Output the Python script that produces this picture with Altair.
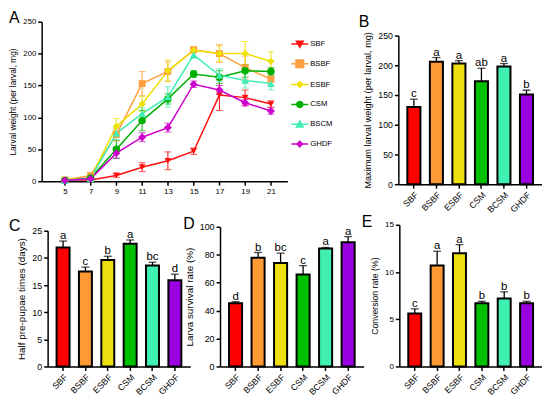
import altair as alt
import pandas as pd

FONT = "Liberation Sans"

# ---------------- Panel A data ----------------
series = ["SBF", "BSBF", "ESBF", "CSM", "BSCM", "GHDF"]
days = [5, 7, 9, 11, 13, 15, 17, 19, 21]

w_sbf = [2, 2, 9, 22, 32, 47, 135, 131, 121]
e_sbf = [1, 1, 3, 7, 14, 5, 24, 12, 5]
w_bsbf = [2, 9, 73, 153, 172, 206, 200, 178, 160]
e_bsbf = [1, 2, 10, 19, 15, 4, 14, 18, 10]
w_esbf = [2, 5, 86, 121, 173, 205, 200, 200, 188]
e_esbf = [1, 2, 12, 12, 17, 4, 12, 19, 15]
w_csm = [1, 5, 50, 95, 129, 168, 163, 173, 172]
e_csm = [1, 2, 14, 16, 8, 5, 10, 10, 6]
w_bscm = [1, 4, 75, 106, 132, 198, 166, 158, 153]
e_bscm = [1, 2, 10, 9, 16, 5, 10, 12, 10]
w_ghdf = [1, 4, 44, 69, 84, 152, 143, 123, 110]
e_ghdf = [1, 1, 8, 7, 7, 5, 7, 5, 5]

line_colors = ["#FF1010", "#FFA040", "#EEE000", "#00B000", "#40EDB5", "#CC00CC"]
marker_shapes = ["triangle-down", "square", "diamond", "circle", "triangle-up", "diamond"]
marker_sizes = [45, 64, 30, 49, 45, 30]
legend_paths = [
    "M-1,0L1,0M-0.4,-0.32L0.4,-0.32L0,0.38Z",
    "M-1,0L1,0M-0.45,-0.45L0.45,-0.45L0.45,0.45L-0.45,0.45Z",
    "M-1,0L1,0M0,-0.33L0.33,0L0,0.33L-0.33,0Z",
    "M-1,0L1,0M0.36,0L0.312,0.18L0.18,0.312L0,0.36L-0.18,0.312L-0.312,0.18L-0.36,0"
    "L-0.312,-0.18L-0.18,-0.312L0,-0.36L0.18,-0.312L0.312,-0.18Z",
    "M-1,0L1,0M-0.4,0.32L0.4,0.32L0,-0.38Z",
    "M-1,0L1,0M0,-0.33L0.33,0L0,0.33L-0.33,0Z",
]

# ---------------- Bar panels data ----------------
groups = ["SBF", "BSBF", "ESBF", "CSM", "BCSM", "GHDF"]
max_w = [130, 206, 203, 173, 198, 151]
max_err = [13, 7, 5, 22, 5, 7]
max_let = ["c", "a", "a", "ab", "a", "b"]

half_t = [21.9, 17.5, 19.6, 22.6, 18.6, 15.9]
half_err = [1.2, 0.8, 0.7, 0.7, 0.6, 1.1]
half_let = ["a", "c", "b", "a", "bc", "d"]

surv = [45.2, 77.9, 74.1, 65.9, 84.5, 88.9]
surv_err = [1.2, 3.7, 7.1, 6.3, 0.7, 4.0]
surv_let = ["d", "b", "bc", "c", "a", "a"]

conv = [5.6, 10.7, 12.0, 6.7, 7.2, 6.7]
conv_err = [0.5, 1.5, 0.9, 0.2, 0.7, 0.2]
conv_let = ["c", "a", "a", "b", "b", "b"]

bar_colors = ["#FF0000", "#FF9933", "#EEE010", "#00C000", "#40F0B0", "#9B00E0"]
bar_colors_e = ["#FF0000", "#FF8000", "#EEE010", "#00C000", "#40F0B0", "#9B00E0"]

# ---------------- Panel A ----------------
rows = []
for s, w, e in zip(series, [w_sbf, w_bsbf, w_esbf, w_csm, w_bscm, w_ghdf],
                   [e_sbf, e_bsbf, e_esbf, e_csm, e_bscm, e_ghdf]):
    for d, v, er in zip(days, w, e):
        rows.append({"series": s, "day": d, "w": v, "lo": max(v - er, 0), "hi": v + er})
dfA = pd.DataFrame(rows)

def letter_title(t, dx, dy):
    return alt.TitleParams(t, anchor="start", frame="group", fontSize=16, font=FONT,
                           fontWeight="normal", color="black", dx=dx, dy=dy, offset=0,
                           baseline="alphabetic")

xA = alt.X("day:Q",
           scale=alt.Scale(domain=[3.2, 22.28], range=[-6, 242], nice=False, zero=False),
           axis=alt.Axis(values=days, labelFontSize=8, labelPadding=2),
           title=None)
yA_axis = alt.Axis(values=[0, 50, 100, 150, 200, 250], labelFontSize=7.8, titleFontSize=8.4,
                   offset=6, titlePadding=5)
yA_scale = alt.Scale(domain=[0, 250], nice=False)
def yA(f):
    return alt.Y(f + ":Q", scale=yA_scale, axis=yA_axis, title="Larval weight (per larval, mg)")

col_scale = alt.Scale(domain=series, range=line_colors)
baseA = alt.Chart(dfA)
linesA = baseA.mark_line(strokeWidth=1.5).encode(
    x=xA, y=yA("w"), color=alt.Color("series:N", scale=col_scale, legend=None),
    detail="series:N")
errA = baseA.mark_rule(strokeWidth=1).encode(
    x=xA, y=yA("lo"), y2="hi", color=alt.Color("series:N", scale=col_scale, legend=None))
capHi = baseA.mark_tick(orient="horizontal", size=7, thickness=1).encode(
    x=xA, y=yA("hi"), color=alt.Color("series:N", scale=col_scale, legend=None))
capLo = baseA.mark_tick(orient="horizontal", size=7, thickness=1).encode(
    x=xA, y=yA("lo"), color=alt.Color("series:N", scale=col_scale, legend=None))
ptsA = baseA.mark_point(filled=True, opacity=1).encode(
    x=xA, y=yA("w"),
    color=alt.Color("series:N", scale=col_scale, legend=None),
    shape=alt.Shape("series:N", scale=alt.Scale(domain=series, range=marker_shapes), legend=None),
    size=alt.Size("series:N", scale=alt.Scale(domain=series, range=marker_sizes), legend=None))
leg = alt.Legend(title=None, orient="none", legendX=245, legendY=13, direction="vertical",
                 labelFont=FONT, labelFontSize=7.8, labelColor="black", labelOffset=1,
                 symbolSize=289, symbolStrokeWidth=1.5, symbolOpacity=1,
                 rowPadding=4, padding=0)
# legend-only layer: no rows pass the filter, so it draws nothing but keeps the legend
legA = baseA.transform_filter("datum.day < 0").mark_point(
    filled=True, size=289, strokeWidth=1.5).encode(
    x=xA, y=yA("w"),
    color=alt.Color("series:N", scale=col_scale, legend=leg),
    stroke=alt.Stroke("series:N", scale=col_scale, legend=leg),
    shape=alt.Shape("series:N", scale=alt.Scale(domain=series, range=legend_paths), legend=leg))

panelA = alt.layer(linesA, errA, capHi, capLo, ptsA, legA).resolve_scale(
    color="independent", shape="independent", stroke="independent", size="independent"
).properties(width=242, height=161, title=letter_title("A", -39, 21))

# ---------------- Bar panels ----------------
def bar_panel(vals, errs, lets, colors, letter, ytitle, ymax, ystep, w, h,
              xr=None, yr=None, title_size=9, label_size=8.5, tdx=-38, tdy=21):
    df = pd.DataFrame({"g": groups, "v": vals,
                       "top": [v + e for v, e in zip(vals, errs)], "lab": lets})
    xs_kw = dict(domain=groups, paddingInner=0.42, paddingOuter=0.4)
    if xr is not None:
        xs_kw["range"] = xr
    ys_kw = dict(domain=[0, ymax], nice=False)
    if yr is not None:
        ys_kw["range"] = yr
    x = alt.X("g:N", sort=groups, scale=alt.Scale(**xs_kw),
              axis=alt.Axis(labelAngle=-45, labelFontSize=8.8, labelPadding=2), title=None)
    yaxis = alt.Axis(values=list(range(0, ymax + 1, ystep)), labelFontSize=label_size,
                     titleFontSize=title_size, titlePadding=5)
    def y(f):
        return alt.Y(f + ":Q", scale=alt.Scale(**ys_kw), axis=yaxis, title=ytitle)
    base = alt.Chart(df)
    bars = base.mark_bar(stroke="black", strokeWidth=2).encode(
        x=x, y=y("v"),
        color=alt.Color("g:N", scale=alt.Scale(domain=groups, range=colors), legend=None))
    rule = base.mark_rule(color="black", strokeWidth=1.3).encode(x=x, y=y("v"), y2="top")
    cap = base.mark_tick(color="black", size=8, thickness=1.3, orient="horizontal").encode(
        x=x, y=y("top"))
    txt = base.mark_text(dy=-2, fontSize=11.5, font=FONT, color="black", fill="black",
                         baseline="alphabetic").encode(x=x, y=y("top"), text="lab:N")
    return alt.layer(bars, rule, cap, txt).properties(
        width=w, height=h, title=letter_title(letter, tdx, tdy))

panelB = bar_panel(max_w, max_err, max_let, bar_colors, "B",
                   "Maximum larval weight (per larval, mg)", 250, 50, 145, 164,
                   yr=[164, 14], title_size=9.2, label_size=8.8, tdx=-40, tdy=21)
panelC = bar_panel(half_t, half_err, half_let, bar_colors, "C",
                   "Half pre-pupae times (days)", 25, 5, 144, 143,
                   yr=[143, 6], title_size=10, label_size=9, tdx=-39, tdy=22)
panelD = bar_panel(surv, surv_err, surv_let, bar_colors, "D",
                   "Larva survival rate (%)", 100, 20, 151, 143,
                   xr=[0, 145], yr=[143, 2], title_size=10, label_size=9, tdx=-37, tdy=22)
panelE = bar_panel(conv, conv_err, conv_let, bar_colors_e, "E",
                   "Conversion rate (%)", 15, 5, 144, 143,
                   title_size=8.8, label_size=8.1, tdx=-38, tdy=22)

row1 = alt.hconcat(panelA, panelB, spacing=112, bounds="flush")
row2 = alt.hconcat(panelC, panelD, panelE, spacing=30, bounds="flush")

chart = alt.vconcat(row1, row2, spacing=-1).properties(
    padding=0, background="white"
).configure_view(stroke=None).configure_axis(
    domainColor="black", domainWidth=1.5, tickColor="black", tickWidth=1.5, tickSize=4,
    labelColor="black", titleColor="black", labelFont=FONT, titleFont=FONT,
    titleFontWeight="normal", grid=False
).configure_title(font=FONT, fontWeight="normal", color="black")

chart.save("out.html", embed_options={"renderer": "svg", "actions": False})
